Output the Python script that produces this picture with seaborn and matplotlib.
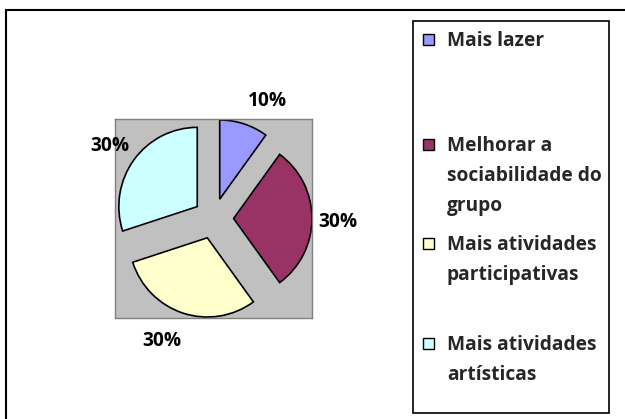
'''
Pie chart of suggested improvements (exploded, Excel-like style).
'''

import matplotlib
matplotlib.use("Agg")
import matplotlib.pyplot as plt
from matplotlib.patches import Rectangle
import seaborn as sns


#Chart data
categories = ["Mais lazer", "Melhorar a\nsociabilidade do\ngrupo",
              "Mais atividades\nparticipativas", "Mais atividades\nartísticas"]
shares = [10, 30, 30, 30]
slice_colors = ["#9999FF", "#993366", "#FFFFCC", "#CCFFFF"]


sns.set_style("white")
plt.rcParams["font.family"] = ["Open Sans", "DejaVu Sans"]
FS = 13.8

W, H = 625, 419
fig = plt.figure(figsize=(W / 100, H / 100), dpi=100)


def fx(x):
    return x / W


def fy(y):
    return 1 - y / H


#Outer chart frame
fig.patches.append(Rectangle((fx(6), fy(430)), fx(640) - fx(6), fy(10) - fy(430),
                             transform=fig.transFigure, fill=False,
                             edgecolor="black", linewidth=1.5))

#Plot area (gray square) and the pie
ax = fig.add_axes([fx(115), fy(318), fx(312) - fx(115), fy(119) - fy(318)])

explode = 0.256
wedges, texts, autotexts = ax.pie(
    shares, colors=slice_colors, startangle=90, counterclock=False,
    explode=[explode] * len(shares), autopct="%1.0f%%", pctdistance=1.37,
    wedgeprops=dict(edgecolor="black", linewidth=1.2), frame=True,
    textprops=dict(fontsize=FS, fontweight="bold", color="black"))
ax.set_axis_on()
ax.set_facecolor("#C0C0C0")
for s in ax.spines.values():
    s.set_visible(True)
    s.set_color("#808080")
    s.set_linewidth(1)
ax.set_xlim(-1 - explode, 1 + explode)
ax.set_ylim(-1 - explode, 1 + explode)
ax.set_aspect("auto")
ax.set_xticks([])
ax.set_yticks([])

#Small nudges of the percentage labels (in radius units)
nudges = [(0.18, -0.06), (-0.04, -0.04), (-0.15, 0.0), (0.0, -0.04)]
for t, (dx, dy) in zip(autotexts, nudges):
    x, y = t.get_position()
    t.set_position((x + dx, y + dy))
    t.set_clip_on(False)

#Legend box drawn by hand to mimic spreadsheet spacing
fig.patches.append(Rectangle((fx(413), fy(413)), fx(609) - fx(413), fy(21) - fy(413),
                             transform=fig.transFigure, fill=False,
                             edgecolor="black", linewidth=1.2))
entry_y = [40, 144, 243, 343]
for label, color, y0 in zip(categories, slice_colors, entry_y):
    fig.patches.append(Rectangle((fx(423), fy(y0 + 5.5)), fx(11), fy(0) - fy(11),
                                 transform=fig.transFigure, facecolor=color,
                                 edgecolor="black", linewidth=1))
    for i, line in enumerate(label.split("\n")):
        fig.text(fx(447), fy(y0 + 6.5 + 30 * i), line, fontsize=FS,
                 fontweight="bold", ha="left", va="baseline")

fig.savefig("out.png", dpi=100)
